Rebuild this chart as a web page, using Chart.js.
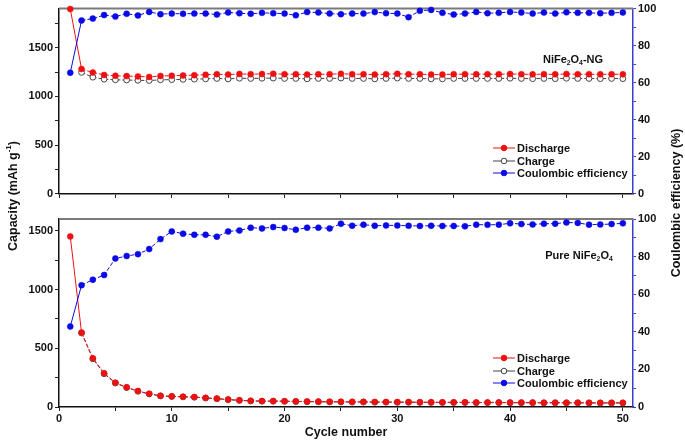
<!DOCTYPE html>
<html>
<head>
<meta charset="utf-8">
<script src="https://cdn.jsdelivr.net/npm/chart.js@4.4.0/dist/chart.umd.min.js"></script>
<style>
  html, body { margin: 0; padding: 0; background: #fff; }
  #wrap { position: relative; width: 685px; height: 443px; }
  canvas { position: absolute; left: 0; top: 0; }
</style>
</head>
<body>
<div id="wrap">
  <canvas id="c2" width="685" height="443"></canvas>
  <canvas id="c1" width="685" height="443"></canvas>
</div>
<script>
// ---------- data ----------
const cycles = [1,2,3,4,5,6,7,8,9,10,11,12,13,14,15,16,17,18,19,20,21,22,23,24,25,26,27,28,29,30,31,32,33,34,35,36,37,38,39,40,41,42,43,44,45,46,47,48,49,50];

const ngDischarge = [1895,1281,1245,1220,1212,1208,1205,1200,1210,1212,1215,1218,1222,1228,1224,1230,1228,1230,1232,1228,1228,1224,1228,1228,1232,1228,1228,1224,1228,1232,1228,1228,1224,1224,1228,1228,1228,1228,1228,1230,1228,1226,1228,1226,1230,1228,1228,1226,1228,1226];
const ngCharge = [null,1246,1197,1177,1170,1168,1165,1163,1170,1172,1175,1177,1180,1184,1180,1186,1184,1186,1188,1184,1184,1180,1184,1184,1188,1184,1184,1180,1184,1188,1184,1184,1180,1180,1184,1184,1184,1184,1184,1186,1184,1182,1184,1182,1186,1184,1184,1182,1184,1182];
const ngEfficiency = [65.4,93.6,94.6,96.5,95.7,97.2,96.3,98.2,97.0,97.3,97.2,97.3,97.3,96.8,97.9,97.5,97.2,97.7,97.5,97.3,96.4,98.1,97.9,97.3,97.0,97.3,97.3,98.1,97.5,97.3,95.4,98.8,99.3,97.7,96.8,97.3,98.2,97.5,97.7,98.2,97.9,97.3,97.9,97.3,98.0,97.7,97.7,97.5,97.7,97.9];

const pureDischarge = [1452,633,415,287,207,168,136,113,96,91,88,85,78,72,64,58,53,51,51,50,48,47,46,45,45,44,44,43,43,42,42,41,41,40,40,40,39,39,39,38,38,38,37,37,37,37,36,36,36,36];
const pureCharge = [null,630,410,283,204,165,134,111,94,89,86,83,76,70,62,56,51,49,49,48,46,45,44,43,43,42,42,41,41,40,40,39,39,38,38,38,37,37,37,36,36,36,35,35,35,35,34,34,34,34];
const pureEfficiency = [42.8,64.8,67.7,70.2,79.0,80.3,81.3,84.0,89.3,93.4,92.2,91.6,91.6,90.6,93.4,93.9,95.4,95.0,95.7,95.2,94.3,95.4,95.4,95.0,97.5,96.4,97.0,96.4,96.6,96.6,96.4,96.3,96.4,96.3,96.3,96.1,97.0,96.9,97.0,97.7,97.3,97.1,97.5,97.5,98.2,97.9,97.0,97.1,97.3,97.7];

const xTicks = [0,5,10,15,20,25,30,35,40,45,50];
const seriesNames = ['Discharge', 'Charge', 'Coulombic efficiency'];

// ---------- styles ----------
const FONT = '"Liberation Sans", Arial, sans-serif';
const RED = '#ee1111';
const BLUE = '#0a0ae6';
const AXBLUE = '#3c3cd0';
const tickFont = { family: FONT, size: 11, weight: 'bold' };

function pts(arr) { return cycles.map((c, i) => ({ x: c, y: arr[i] })); }

function datasets(dis, chg, eff) {
  const dash = ctx => ctx.p0DataIndex === 0 ? [] : [4, 2];
  return [
    { label: seriesNames[2], data: pts(eff), yAxisID: 'y1', borderColor: BLUE, backgroundColor: BLUE,
      pointRadius: 3, pointBorderWidth: 0.5, borderWidth: 1, segment: { borderDash: dash }, clip: false, order: 0 },
    { label: seriesNames[0], data: pts(dis), yAxisID: 'y', borderColor: RED, backgroundColor: RED,
      pointRadius: 3, pointBorderWidth: 0.5, borderWidth: 1, segment: { borderDash: dash }, clip: false, order: 1 },
    { label: seriesNames[1], data: pts(chg), yAxisID: 'y', borderColor: '#444', backgroundColor: '#fff',
      pointRadius: 2.9, pointBorderWidth: 1, borderWidth: 1, borderDash: [4, 2], clip: false, spanGaps: false, order: 2 }
  ];
}

function drawRich(ctx, x, y, parts, size, align) {
  ctx.save();
  ctx.fillStyle = '#111';
  ctx.textBaseline = 'middle';
  ctx.textAlign = 'left';
  let w = 0;
  parts.forEach(p => {
    ctx.font = 'bold ' + (p[1] ? size * 0.62 : size) + 'px ' + FONT;
    w += ctx.measureText(p[0]).width;
  });
  let cx = align === 'center' ? x - w / 2 : x;
  parts.forEach(p => {
    ctx.font = 'bold ' + (p[1] ? size * 0.62 : size) + 'px ' + FONT;
    ctx.fillText(p[0], cx, p[1] ? y + size * 0.32 : y);
    cx += ctx.measureText(p[0]).width;
  });
  ctx.restore();
}

function drawLegend(ctx, x0, rows) {
  const items = [
    { name: seriesNames[0], line: RED, fill: RED, stroke: RED },
    { name: seriesNames[1], line: '#444', fill: '#fff', stroke: '#444' },
    { name: seriesNames[2], line: BLUE, fill: BLUE, stroke: BLUE }
  ];
  ctx.save();
  items.forEach((it, i) => {
    const y = rows[i];
    ctx.strokeStyle = it.line;
    ctx.lineWidth = 1;
    ctx.beginPath(); ctx.moveTo(x0, y); ctx.lineTo(x0 + 22, y); ctx.stroke();
    ctx.beginPath(); ctx.arc(x0 + 11, y, 2.8, 0, Math.PI * 2);
    ctx.fillStyle = it.fill; ctx.fill();
    ctx.strokeStyle = it.stroke; ctx.stroke();
    ctx.fillStyle = '#111';
    ctx.font = 'bold 11px ' + FONT;
    ctx.textBaseline = 'middle';
    ctx.textAlign = 'left';
    ctx.fillText(it.name, x0 + 24, y + 0.5);
  });
  ctx.restore();
}

function scalesFor(yMax, showX, xHeight) {
  return {
    x: {
      type: 'linear', min: 0, max: 50.9,
      afterBuildTicks: s => { s.ticks = xTicks.map(v => ({ value: v })); },
      ticks: { display: showX, autoSkip: false, font: tickFont, color: '#111', padding: 1, maxRotation: 0,
               callback: v => (v % 10 === 0 ? String(v) : '') },
      grid: { drawOnChartArea: false, tickLength: 4, tickColor: '#222', tickWidth: 1 },
      border: { color: '#111', width: 1.5 },
      afterFit: s => { s.height = xHeight; }
    },
    y: {
      position: 'left', min: 0, max: yMax,
      afterBuildTicks: s => {
        const t = [];
        for (let v = 0; v <= s.max; v += 250) t.push({ value: v });
        s.ticks = t;
      },
      ticks: { autoSkip: false, font: tickFont, color: '#111', padding: 2,
               callback: v => (v % 500 === 0 ? String(v) : '') },
      grid: { drawOnChartArea: false, tickLength: 4, tickColor: '#222' },
      border: { color: '#111', width: 1.5 },
      afterFit: s => { s.width = 59; }
    },
    y1: {
      position: 'right', min: 0, max: 100,
      ticks: { stepSize: 10, autoSkip: false, font: tickFont, color: '#111', padding: 2,
               callback: v => (v % 20 === 0 ? String(v) : '') },
      grid: { drawOnChartArea: false, tickLength: 3, tickColor: AXBLUE },
      border: { color: AXBLUE, width: 1.5 },
      afterFit: s => { s.width = 52; }
    }
  };
}

const topBorder = {
  id: 'topBorder',
  beforeDatasetsDraw(chart) {
    const a = chart.chartArea, ctx = chart.ctx;
    ctx.save();
    ctx.strokeStyle = '#7a7a7a';
    ctx.lineWidth = 2;
    ctx.beginPath(); ctx.moveTo(a.left, a.top); ctx.lineTo(a.right, a.top); ctx.stroke();
    ctx.restore();
  }
};

const baseOpts = {
  responsive: false, animation: false, events: [],
  plugins: { legend: { display: false }, tooltip: { enabled: false } }
};

// ---------- top panel ----------
new Chart(document.getElementById('c1'), {
  type: 'line',
  data: { datasets: datasets(ngDischarge, ngCharge, ngEfficiency) },
  options: Object.assign({}, baseOpts, {
    layout: { padding: { top: 7, left: 0, right: 0, bottom: 0 } },
    scales: scalesFor(1900, false, 249)
  }),
  plugins: [topBorder, {
    id: 'decoTop',
    afterDraw(chart) {
      const ctx = chart.ctx;
      drawRich(ctx, 573, 60, [['NiFe', 0], ['2', 1], ['O', 0], ['4', 1], ['-NG', 0]], 11, 'center');
      drawLegend(ctx, 493, [148, 161, 173]);
    }
  }]
});

// ---------- bottom panel ----------
new Chart(document.getElementById('c2'), {
  type: 'line',
  data: { datasets: datasets(pureDischarge, pureCharge, pureEfficiency) },
  options: Object.assign({}, baseOpts, {
    layout: { padding: { top: 219, left: 0, right: 0, bottom: 0 } },
    scales: scalesFor(1600, true, 36)
  }),
  plugins: [topBorder, {
    id: 'decoBottom',
    afterDraw(chart) {
      const ctx = chart.ctx;
      drawRich(ctx, 579, 256, [['Pure NiFe', 0], ['2', 1], ['O', 0], ['4', 1]], 11, 'center');
      drawLegend(ctx, 493, [358, 371, 383]);
      ctx.save();
      ctx.fillStyle = '#111';
      ctx.textBaseline = 'middle';
      ctx.textAlign = 'center';
      ctx.font = 'bold 12.5px ' + FONT;
      ctx.fillText('Cycle number', 346, 433);
      // left title
      ctx.save();
      ctx.translate(14, 196);
      ctx.rotate(-Math.PI / 2);
      const t1 = 'Capacity (mAh g', t2 = '-1', t3 = ')';
      ctx.font = 'bold 12.5px ' + FONT;
      const w1 = ctx.measureText(t1).width, w3 = ctx.measureText(t3).width;
      ctx.font = 'bold 8px ' + FONT;
      const w2 = ctx.measureText(t2).width;
      let sx = -(w1 + w2 + w3) / 2;
      ctx.textAlign = 'left';
      ctx.font = 'bold 12.5px ' + FONT;
      ctx.fillText(t1, sx, 0); sx += w1;
      ctx.font = 'bold 8px ' + FONT;
      ctx.fillText(t2, sx, -5); sx += w2;
      ctx.font = 'bold 12.5px ' + FONT;
      ctx.fillText(t3, sx, 0);
      ctx.restore();
      // right title
      ctx.save();
      ctx.translate(677, 203);
      ctx.rotate(-Math.PI / 2);
      ctx.textAlign = 'center';
      ctx.font = 'bold 12.5px ' + FONT;
      ctx.fillText('Coulombic efficiency (%)', 0, 0);
      ctx.restore();
      ctx.restore();
    }
  }]
});
</script>
</body>
</html>
